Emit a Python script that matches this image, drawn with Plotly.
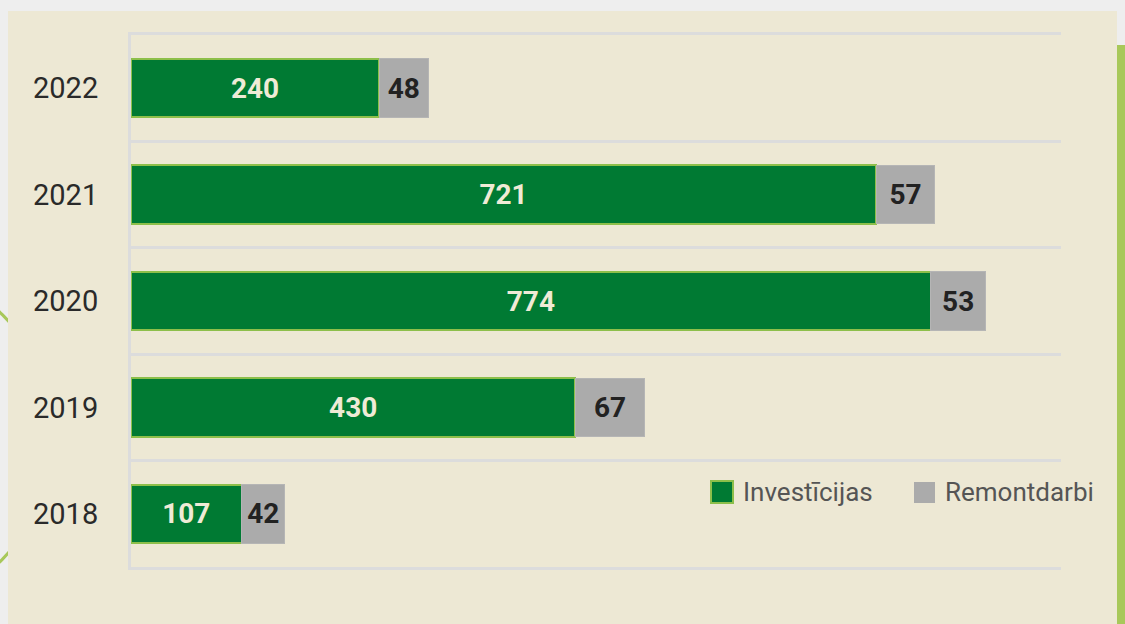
import plotly.graph_objects as go

years = ["2018", "2019", "2020", "2021", "2022"]
investicijas = [107, 430, 774, 721, 240]
remontdarbi = [42, 67, 53, 57, 48]
series_names = ["Investīcijas", "Remontdarbi"]

GREEN = "#007A33"
GREEN_EDGE = "#8DBF4A"
GRAY = "#ABABAB"
BEIGE = "#EDE8D4"
PAGE = "#EEEEEE"
GRID = "#DCDCDC"
FONT = "Roboto, Liberation Sans, sans-serif"

W, H = 1125, 624
L, R, T, B = 131, 64, 35, 57
pw, ph = W - L - R, H - T - B

def px(x):
    return (x - L) / pw

def py(y):
    return (H - B - y) / ph

fig = go.Figure()
fig.add_trace(go.Bar(
    y=years, x=investicijas, orientation="h", name=series_names[0],
    marker=dict(color=GREEN, line=dict(color=GREEN_EDGE, width=2)),
    width=0.55, texttemplate="%{x}", textposition="inside",
    insidetextanchor="middle", textangle=0,
    textfont=dict(family=FONT, size=28, color="#EFEBD6", weight="bold"),
    showlegend=False,
))
fig.add_trace(go.Bar(
    y=years, x=remontdarbi, orientation="h", name=series_names[1],
    marker=dict(color=GRAY, line=dict(color="#B5B5B5", width=1)),
    width=0.55, texttemplate="%{x}", textposition="inside",
    insidetextanchor="middle", textangle=0,
    textfont=dict(family=FONT, size=28, color="#222222", weight="bold"),
    showlegend=False,
))

shapes = [
    dict(type="circle", xref="paper", yref="paper", layer="below",
         x0=px(-293), x1=px(53), y0=py(610), y1=py(264),
         line=dict(color="#A8C85A", width=3), fillcolor="rgba(0,0,0,0)"),
    dict(type="rect", xref="paper", yref="paper", layer="below",
         x0=px(8), x1=px(1117), y0=py(640), y1=py(11),
         line=dict(width=0), fillcolor=BEIGE),
    dict(type="rect", xref="paper", yref="paper", layer="below",
         x0=px(1117), x1=px(1130), y0=py(640), y1=py(45),
         line=dict(width=0), fillcolor="#A8C85A"),
    dict(type="rect", xref="paper", yref="paper", layer="above",
         x0=px(711), x1=px(733), y0=py(503), y1=py(481),
         line=dict(color=GREEN_EDGE, width=2), fillcolor=GREEN),
    dict(type="rect", xref="paper", yref="paper", layer="above",
         x0=px(914), x1=px(935), y0=py(503), y1=py(482),
         line=dict(width=0), fillcolor=GRAY),
]

annotations = [
    dict(xref="paper", yref="paper", x=px(741), y=py(492), xanchor="left",
         yanchor="middle", text=series_names[0], showarrow=False,
         font=dict(family=FONT, size=26, color="#555555")),
    dict(xref="paper", yref="paper", x=px(943), y=py(492), xanchor="left",
         yanchor="middle", text=series_names[1], showarrow=False,
         font=dict(family=FONT, size=26, color="#555555")),
]

fig.update_layout(
    width=W, height=H, barmode="stack",
    margin=dict(l=L, r=R, t=T, b=B, pad=0),
    paper_bgcolor=PAGE, plot_bgcolor="rgba(0,0,0,0)",
    shapes=shapes, annotations=annotations,
    xaxis=dict(range=[0, 900], showticklabels=False, showgrid=False,
               zeroline=False, showline=True, linecolor=GRID, linewidth=3,
               mirror=True, ticks=""),
    yaxis=dict(type="category", categoryorder="array", categoryarray=years,
               range=[-0.5, 4.5], tickson="boundaries", showgrid=True,
               gridcolor=GRID, gridwidth=3, showline=True, linecolor=GRID,
               linewidth=3, ticks="", ticklabelstandoff=24,
               tickfont=dict(family=FONT, size=29, color="#2A2A2A")),
    font=dict(family=FONT),
)

fig.write_html(
    "out.html",
    config={"displayModeBar": False},
    post_script="document.body.style.margin='0';"
                "document.body.style.background='#EEEEEE';"
                "document.body.style.overflow='hidden';",
)
